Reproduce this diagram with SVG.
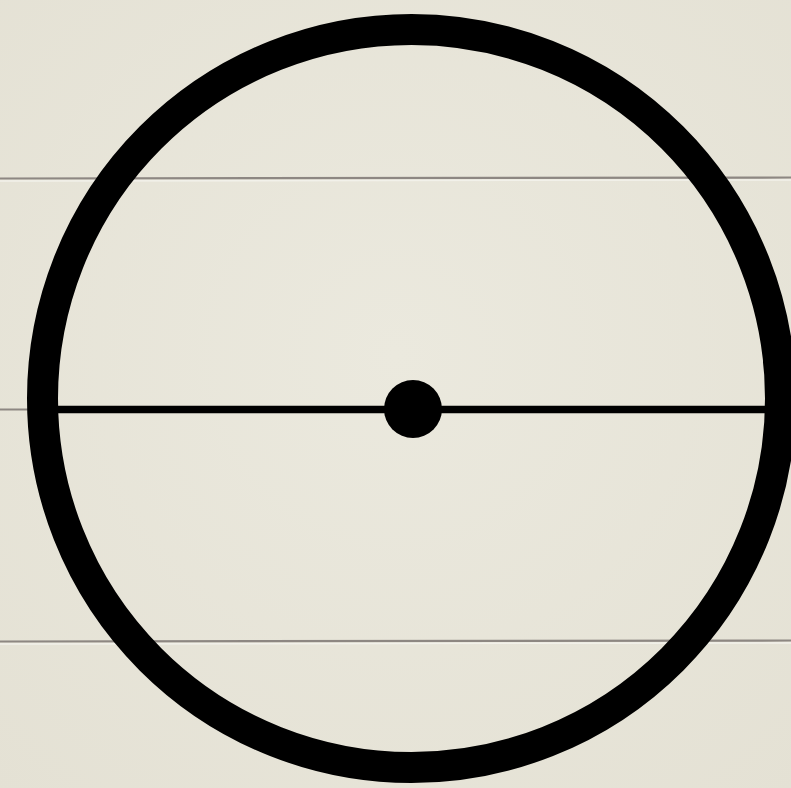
<svg xmlns="http://www.w3.org/2000/svg" width="791" height="788" viewBox="0 0 791 788">
  <defs>
    <radialGradient id="paper" cx="50%" cy="45%" r="75%">
      <stop offset="0" stop-color="#ebe9de"/>
      <stop offset="1" stop-color="#e4e1d4"/>
    </radialGradient>
    <style>
      .rule { stroke: #8d8782; stroke-width: 2.2; fill: none; }
      .shade { stroke: #f2f1ea; stroke-width: 1.5; fill: none; }
      .ink { stroke: #000; fill: none; }
    </style>
  </defs>
  <rect width="791" height="788" fill="url(#paper)"/>
  <g id="paper-rules">
    <line class="rule" x1="0" y1="178.5" x2="791" y2="177.5"/>
    <line class="shade" x1="0" y1="181" x2="791" y2="180"/>
    <line class="rule" x1="0" y1="409.5" x2="791" y2="409.5"/>
    <line class="rule" x1="0" y1="641.5" x2="791" y2="640.5"/>
    <line class="shade" x1="0" y1="644" x2="791" y2="643"/>
  </g>
  <g id="circle">
    <circle class="ink" cx="411.5" cy="398.5" r="369" stroke-width="31"/>
  </g>
  <g id="connectors">
    <line class="ink" x1="50" y1="409.5" x2="775" y2="409.5" stroke-width="7.5"/>
  </g>
  <g id="center">
    <circle cx="413" cy="409" r="29" fill="#000"/>
  </g>
</svg>
